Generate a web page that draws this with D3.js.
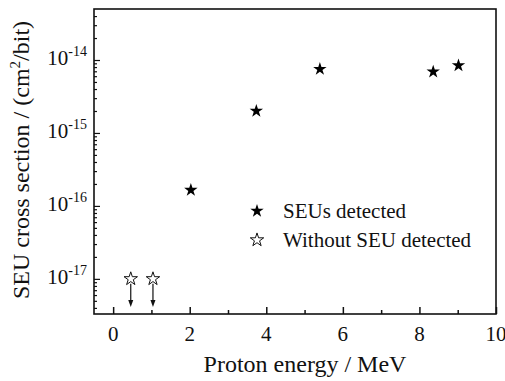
<!DOCTYPE html>
<html>
<head>
<meta charset="utf-8">
<script src="https://cdn.jsdelivr.net/npm/d3@7"></script>
<style>
  body { margin: 0; background: #fff; }
</style>
</head>
<body>
<figure id="chart" style="margin:0"></figure>
<script>
// SEUs detected
const energy = [2.03, 3.74, 5.40, 8.36, 9.02];
const sigma = [1.65e-16, 2.0e-15, 7.5e-15, 6.9e-15, 8.4e-15];
// without SEU detected (upper limits)
const limitEnergy = [0.46, 1.04];
const limitSigma = [1.0e-17, 1.0e-17];

const xTicks = [0, 2, 4, 6, 8, 10];
const xMinor = [1, 3, 5, 7, 9];
const yExp = [-17, -16, -15, -14];

const W = 505, H = 381;
const margin = {top: 9, right: 9, bottom: 67, left: 94};
const serif = "'Liberation Serif', 'Times New Roman', 'DejaVu Serif', serif";

const svg = d3.select("#chart").append("svg")
  .attr("width", W).attr("height", H)
  .attr("font-family", serif)
  .style("font-family", serif);

const x = d3.scaleLinear().domain([-0.5, 10]).range([margin.left, W - margin.right]);
const y = d3.scaleLog().domain([3.3e-18, 5.0e-14]).range([H - margin.bottom, margin.top]);

const g = svg.append("g");

// x ticks (inward)
const xAxis = g.append("g").attr("transform", `translate(0,${y.range()[0]})`);
xAxis.call(d3.axisTop(x).tickValues(xTicks).tickSize(7).tickFormat(""));
xAxis.append("g").call(d3.axisTop(x).tickValues(xMinor).tickSize(4).tickFormat(""));
xAxis.selectAll(".domain").remove();
xAxis.selectAll("line").attr("stroke", "#111").attr("stroke-width", 1.5);

g.selectAll(".xlab").data(xTicks).enter().append("text")
  .attr("x", d => x(d)).attr("y", 341)
  .attr("text-anchor", "middle").attr("font-size", "21px")
  .style("font-family", serif).attr("fill", "#111")
  .text(d => d);

// y ticks (inward), log minor ticks 2..9
const yMinor = [];
for (let e = -18; e <= -14; e++) for (let m = 2; m <= 9; m++) {
  const v = m * Math.pow(10, e);
  if (v > y.domain()[0] && v < y.domain()[1]) yMinor.push(v);
}
const yAxis = g.append("g").attr("transform", `translate(${x.range()[0]},0)`);
yAxis.call(d3.axisRight(y).tickValues(yExp.map(e => Math.pow(10, e))).tickSize(6).tickFormat(""));
yAxis.append("g").call(d3.axisRight(y).tickValues(yMinor).tickSize(3).tickFormat(""));
yAxis.selectAll(".domain").remove();
yAxis.selectAll("line").attr("stroke", "#111").attr("stroke-width", 1.2);

const ylab = g.selectAll(".ylab").data(yExp).enter().append("text")
  .attr("x", 87).attr("y", d => y(Math.pow(10, d)) + 5)
  .attr("text-anchor", "end").attr("font-size", "21px")
  .style("font-family", serif).attr("fill", "#111");
ylab.append("tspan").text("10");
ylab.append("tspan").attr("dy", -9).attr("font-size", "14px").text(d => "-" + (-d));

// frame
g.append("rect")
  .attr("x", x.range()[0]).attr("y", y.range()[1])
  .attr("width", x.range()[1] - x.range()[0])
  .attr("height", y.range()[0] - y.range()[1])
  .attr("fill", "none").attr("stroke", "#111").attr("stroke-width", 1.6);

const star = d3.symbol().type(d3.symbolStar).size(56);

// filled stars
g.selectAll(".seu").data(energy).enter().append("path")
  .attr("d", star)
  .attr("transform", (d, i) => `translate(${x(d)},${y(sigma[i])})`)
  .attr("fill", "#000");

// arrows below the open stars
const tip = y.range()[0] - 7;
limitEnergy.forEach((e, i) => {
  const cx = x(e), cy = y(limitSigma[i]);
  g.append("line")
    .attr("x1", cx).attr("x2", cx).attr("y1", cy + 5).attr("y2", tip - 6)
    .attr("stroke", "#111").attr("stroke-width", 1.2);
  g.append("path")
    .attr("d", `M${cx - 2.5},${tip - 7}L${cx + 2.5},${tip - 7}L${cx},${tip}Z`)
    .attr("fill", "#111");
});

// open stars
g.selectAll(".lim").data(limitEnergy).enter().append("path")
  .attr("d", star)
  .attr("transform", (d, i) => `translate(${x(d)},${y(limitSigma[i])})`)
  .attr("fill", "#fff").attr("stroke", "#111").attr("stroke-width", 1);

// legend
const legend = [
  {label: "SEUs detected", fill: "#000"},
  {label: "Without SEU detected", fill: "#fff"}
];
const lg = g.selectAll(".leg").data(legend).enter().append("g")
  .attr("transform", (d, i) => `translate(257,${211 + i * 29})`);
lg.append("path").attr("d", star)
  .attr("fill", d => d.fill).attr("stroke", "#111").attr("stroke-width", d => d.fill === "#000" ? 0 : 1);
lg.append("text").attr("x", 26).attr("y", 7)
  .attr("font-size", "21px").style("font-family", serif).attr("fill", "#111")
  .text(d => d.label);

// axis titles
svg.append("text")
  .attr("x", 305).attr("y", 372)
  .attr("text-anchor", "middle").attr("font-size", "24px")
  .style("font-family", serif).attr("fill", "#111")
  .text("Proton energy / MeV");

const yt = svg.append("text")
  .attr("transform", "translate(29,160) rotate(-90)")
  .attr("text-anchor", "middle").attr("font-size", "24px")
  .style("font-family", serif).attr("fill", "#111");
yt.append("tspan").text("SEU cross section / (cm");
yt.append("tspan").attr("dy", -9).attr("font-size", "15px").text("2");
yt.append("tspan").attr("dy", 9).text("/bit)");
</script>
</body>
</html>
